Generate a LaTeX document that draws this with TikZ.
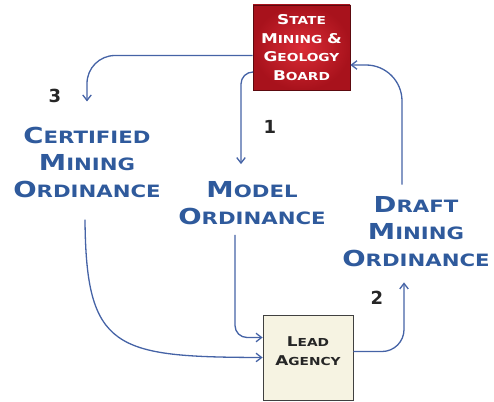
\documentclass[tikz,border=0pt]{standalone}
\usepackage{fontspec}
\setmainfont{DejaVu Sans}
\newfontfamily\cpfont[FakeStretch=1.25]{DejaVu Sans}
\usetikzlibrary{arrows.meta, positioning, calc}

\definecolor{ordblue}{HTML}{2F5A9C}
\definecolor{arrblue}{HTML}{4563A6}
\definecolor{boardred}{HTML}{A8121C}
\definecolor{boardlight}{HTML}{DA2C36}
\definecolor{agencyfill}{HTML}{F6F3E2}

% two-size capitals: big first letter, smaller rest
\newcommand{\capA}[2]{{\fontsize{22}{27}\selectfont #1}{\fontsize{17}{27}\selectfont #2}}
\newcommand{\capB}[2]{{\fontsize{13.5}{18.5}\selectfont #1}{\fontsize{11}{18.5}\selectfont #2}}

\begin{document}
\begin{tikzpicture}[
  x=1pt, y=-1pt,
  % ordinance labels in blue
  ord/.style={
    text=ordblue, font=\cpfont\bfseries\fontsize{17}{27}\selectfont,
    align=center, inner sep=0pt
  },
  board/.style={
    rectangle, draw=boardred!55!black, thick,
    inner color=boardlight, outer color=boardred,
    text=white, font=\cpfont\bfseries\fontsize{11}{18.5}\selectfont,
    minimum width=97pt, minimum height=85pt, align=center
  },
  agency/.style={
    rectangle, draw=black!75, thick,
    fill=agencyfill,
    text=black!85, font=\cpfont\bfseries\fontsize{11}{19}\selectfont,
    minimum width=90pt, minimum height=85pt, align=center
  },
  num/.style={font=\bfseries\fontsize{18}{18}\selectfont, text=black!85, inner sep=0pt},
  arr/.style={-{Straight Barb[length=5.5pt,width=8.5pt]}, arrblue, line width=1.3pt},
]
\useasboundingbox (0,0) rectangle (494,401);

%% -- boxes ------------------------------------------------------------
\node[board] (board) at (301.5,47.5) {
  \capB{S}{TATE}\\
  \capB{M}{INING} \capB{\&}{}\\
  \capB{G}{EOLOGY}\\
  \capB{B}{OARD}
};

\node[agency] (agency) at (308,357.5) {
  \capB{L}{EAD}\\
  \capB{A}{GENCY}\\[-6pt]
};

%% -- ordinances -------------------------------------------------------
\node[ord] (cert) at (87,162) {
  \capA{C}{ERTIFIED}\\
  \capA{M}{INING}\\
  \capA{O}{RDINANCE}
};

\node[ord] (model) at (252,203) {
  \capA{M}{ODEL}\\
  \capA{O}{RDINANCE}
};

\node[ord] (draft) at (416,232) {
  \capA{D}{RAFT}\\
  \capA{M}{INING}\\
  \capA{O}{RDINANCE}
};

%% -- step numbers -----------------------------------------------------
\node[num] (n1) at (270,127) {1};
\node[num] (n2) at (377,298) {2};
\node[num] (n3) at (55,96) {3};

%% -- arrows -----------------------------------------------------------
\coordinate (b1) at ([yshift=-8pt]board.west);
\coordinate (b2) at ([yshift=-24.5pt]board.west);
\coordinate (b3) at ([yshift=-17.5pt]board.east);
\coordinate (a1) at ([yshift=20pt]agency.west);
\coordinate (a2) at ([yshift=0pt]agency.west);
\coordinate (a3) at ([yshift=6pt]agency.east);

\coordinate (c1) at ($(cert.north)+(0,-25)$);
\coordinate (c2) at ($(cert.south)+(-2,22)$);
\coordinate (m1) at ($(model.north -| 241,0)+(0,-17)$);
\coordinate (m2) at ($(model.south -| 235,0)+(0,10)$);
\coordinate (d1) at ($(draft.south -| 404,0)+(0,15)$);
\coordinate (d2) at ($(draft.north -| 402,0)+(0,-12)$);

\draw[arr, rounded corners=28pt] (b1) -| (c1);
\draw[arr, rounded corners=12pt] (b2) -| (m1);
\draw[arr, rounded corners=12pt] (m2) |- (a1);
\draw[arr] (c2) .. controls (86,350) and (115,357) .. (a2);
\draw[arr, rounded corners=22pt] (a3) -| (d1);
\draw[arr, rounded corners=36pt] (d2) |- (b3);

\end{tikzpicture}
\end{document}
